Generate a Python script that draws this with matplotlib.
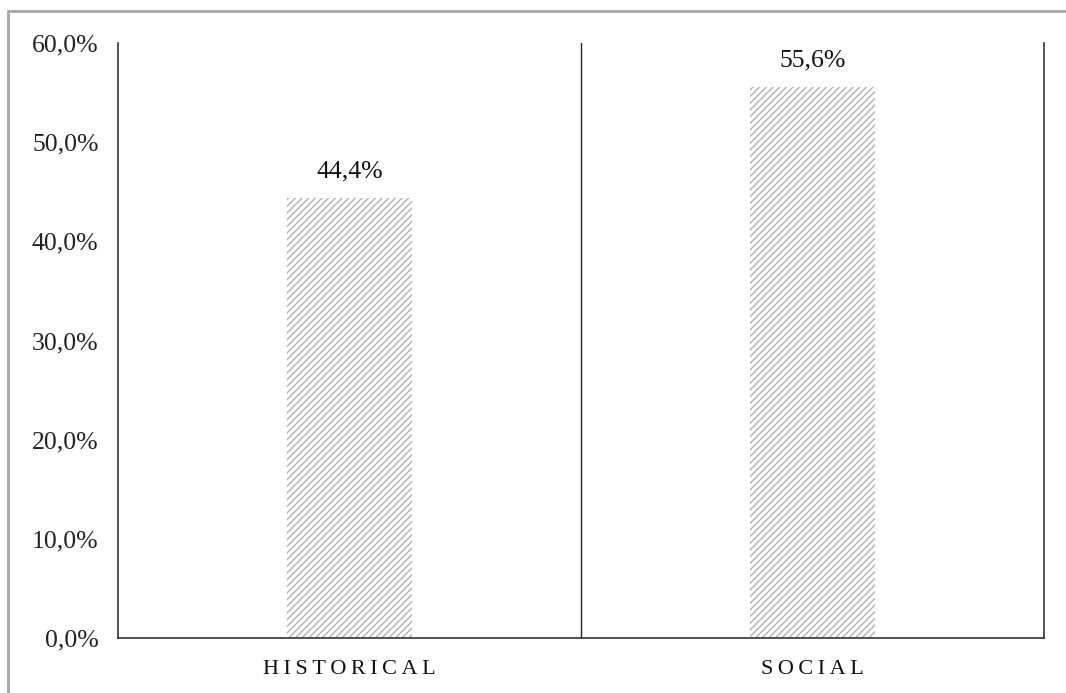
import matplotlib.pyplot as plt
from matplotlib.patches import Rectangle

categories = ['HISTORICAL', 'SOCIAL']
values = [44.4, 55.6]
labels = ['44,4%', '55,6%']
yticks = [0, 10, 20, 30, 40, 50, 60]

plt.rcParams['font.family'] = ['Liberation Serif', 'DejaVu Serif']
plt.rcParams['hatch.linewidth'] = 0.9

fig = plt.figure(figsize=(10.66, 6.93), dpi=100)
fig.patches.append(Rectangle((0.0075, -0.05), 1.1, 1.034, transform=fig.transFigure,
                             fill=False, edgecolor='#a6a6a6', linewidth=2))
ax = fig.add_axes([0.1107, 0.0794, 0.8687, 0.8586])

x = range(len(categories))
bars = ax.bar(x, values, width=0.27, color='white', edgecolor='#a8a8a8',
              hatch='/////', linewidth=0)

for xi, v, lab in zip(x, values, labels):
    ax.text(xi, v + 1.5, lab, ha='center', va='bottom', fontsize=18.5, color='#111111')

ax.axvline(0.5, color='#222222', linewidth=1)
ax.set_xlim(-0.5, 1.5)
ax.set_ylim(0, 60)
ax.set_yticks(yticks)
ax.set_yticklabels([f'{t},0%' for t in yticks], fontsize=18.5, color='#222222')
ax.set_xticks(list(x))
ax.set_xticklabels(['\u2009'.join(c) for c in categories], fontsize=16, color='#111111')
ax.tick_params(axis='x', length=0, pad=16)
ax.tick_params(axis='y', length=0, pad=14)

ax.spines['top'].set_visible(False)
for s in ['left', 'right', 'bottom']:
    ax.spines[s].set_color('#333333')
    ax.spines[s].set_linewidth(1.2)

fig.savefig('out.png', dpi=100)
